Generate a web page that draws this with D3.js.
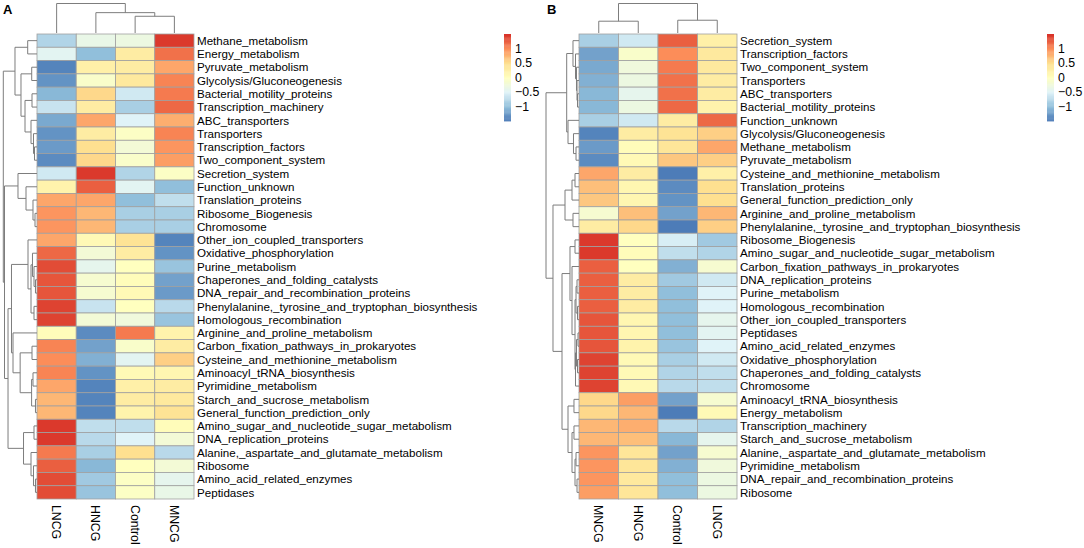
<!DOCTYPE html>
<html>
<head>
<meta charset="utf-8">
<script src="https://cdn.jsdelivr.net/npm/d3@7"></script>
<style>
  body { margin: 0; background: #fff; }
  svg { display: block; font-family: "Liberation Sans", Arial, Helvetica, sans-serif; }
</style>
</head>
<body>
<div id="chart"></div>
<script>
// ---- data: panel A ----
const rowsA = [
  "Methane_metabolism", "Energy_metabolism", "Pyruvate_metabolism", "Glycolysis/Gluconeogenesis",
  "Bacterial_motility_proteins", "Transcription_machinery", "ABC_transporters", "Transporters",
  "Transcription_factors", "Two_component_system", "Secretion_system", "Function_unknown",
  "Translation_proteins", "Ribosome_Biogenesis", "Chromosome", "Other_ion_coupled_transporters",
  "Oxidative_phosphorylation", "Purine_metabolism", "Chaperones_and_folding_catalysts",
  "DNA_repair_and_recombination_proteins", "Phenylalanine,_tyrosine_and_tryptophan_biosynthesis",
  "Homologous_recombination", "Arginine_and_proline_metabolism", "Carbon_fixation_pathways_in_prokaryotes",
  "Cysteine_and_methionine_metabolism", "Aminoacyl_tRNA_biosynthesis", "Pyrimidine_metabolism",
  "Starch_and_sucrose_metabolism", "General_function_prediction_only",
  "Amino_sugar_and_nucleotide_sugar_metabolism", "DNA_replication_proteins",
  "Alanine,_aspartate_and_glutamate_metabolism", "Ribosome", "Amino_acid_related_enzymes", "Peptidases"
];
const colsA = ["LNCG", "HNCG", "Control", "MNCG"];
const valuesA = [
  [-0.8, -0.35, -0.3, 1.45],
  [-0.45, -1.0, 0.3, 1.15],
  [-1.4, 0.25, 0.3, 0.85],
  [-1.3, -0.1, 0.35, 1.05],
  [-1.05, 0.55, -0.6, 1.1],
  [-0.65, 0.3, -0.85, 1.2],
  [-1.15, 0.85, -0.5, 0.8],
  [-1.3, 0.3, -0.05, 1.05],
  [-1.25, 0.5, -0.2, 0.95],
  [-1.35, 0.55, -0.1, 0.9],
  [-0.6, 1.45, -0.8, -0.05],
  [0.2, 1.25, -0.45, -1.0],
  [0.85, 0.85, -1.0, -0.7],
  [0.95, 0.75, -0.85, -0.85],
  [0.95, 0.75, -0.85, -0.85],
  [0.85, 0.1, 0.45, -1.4],
  [1.2, -0.2, 0.3, -1.3],
  [1.35, -0.4, 0.0, -0.95],
  [1.3, -0.15, 0.05, -1.2],
  [1.3, -0.15, 0.1, -1.25],
  [1.4, -0.65, 0.0, -0.75],
  [1.4, -0.2, -0.25, -0.95],
  [0.05, -1.35, 1.1, 0.2],
  [1.05, -1.2, -0.1, 0.3],
  [1.0, -1.1, -0.45, 0.6],
  [1.05, -1.3, 0.1, 0.15],
  [0.85, -1.4, 0.25, 0.3],
  [0.75, -1.4, 0.3, 0.35],
  [0.75, -1.4, 0.2, 0.45],
  [1.45, -0.7, -0.7, 0.05],
  [1.45, -0.75, -0.5, -0.2],
  [1.1, -0.85, 0.5, -0.75],
  [1.25, -1.05, 0.0, -0.2],
  [1.35, -0.9, -0.05, -0.4],
  [1.35, -0.95, -0.05, -0.35]
];
// merge trees: [height, left, right], leaves are row / column indices
const rowTreeA = [10,
  [6.53, [2.76, 0, 1], [4.75, [1.57, 2, 3], [3.56, [1.48, 4, 5], [1.78, 6, [1.04, 7, [0.74, 8, 9]]]]]],
  [9.64,
    [5.64, 10, [3.26, 11, [1.19, 12, [0.59, 13, 14]]]],
    [8.6,
      [7.57,
        [2.67, 15, [1.78, [1.34, 16, [0.89, 17, [0.45, 18, 19]]], [0.89, 20, 21]]],
        [7.12, 22, [5.0, [1.48, 23, 24], [1.6, [1.19, 25, 26], [0.45, 27, 28]]]]],
      [4.0, [0.89, 29, 30], [1.78, 31, [1.04, 32, [0.45, 33, 34]]]]]]];
const colTreeA = [10, 0, [6.9, 1, [5.67, 2, 3]]];

// ---- data: panel B ----
const rowsB = [
  "Secretion_system", "Transcription_factors", "Two_component_system", "Transporters",
  "ABC_transporters", "Bacterial_motility_proteins", "Function_unknown", "Glycolysis/Gluconeogenesis",
  "Methane_metabolism", "Pyruvate_metabolism", "Cysteine_and_methionine_metabolism",
  "Translation_proteins", "General_function_prediction_only", "Arginine_and_proline_metabolism",
  "Phenylalanine,_tyrosine_and_tryptophan_biosynthesis", "Ribosome_Biogenesis",
  "Amino_sugar_and_nucleotide_sugar_metabolism", "Carbon_fixation_pathways_in_prokaryotes",
  "DNA_replication_proteins", "Purine_metabolism", "Homologous_recombination",
  "Other_ion_coupled_transporters", "Peptidases", "Amino_acid_related_enzymes",
  "Oxidative_phosphorylation", "Chaperones_and_folding_catalysts", "Chromosome",
  "Aminoacyl_tRNA_biosynthesis", "Energy_metabolism", "Transcription_machinery",
  "Starch_and_sucrose_metabolism", "Alanine,_aspartate_and_glutamate_metabolism",
  "Pyrimidine_metabolism", "DNA_repair_and_recombination_proteins", "Ribosome"
];
const colsB = ["MNCG", "HNCG", "Control", "LNCG"];
const valuesB = [
  [-0.85, -0.6, 1.25, 0.25],
  [-1.2, -0.1, 1.0, 0.35],
  [-1.15, -0.25, 1.1, 0.35],
  [-1.1, -0.3, 1.15, 0.3],
  [-1.05, -0.4, 1.15, 0.3],
  [-1.05, -0.3, 1.2, 0.2],
  [-0.85, -0.6, 0.3, 1.2],
  [-1.4, 0.3, 0.45, 0.6],
  [-1.25, 0.05, 0.4, 0.85],
  [-1.35, 0.1, 0.65, 0.6],
  [0.85, 0.3, -1.45, 0.25],
  [0.7, 0.15, -1.35, 0.5],
  [0.65, 0.15, -1.3, 0.5],
  [-0.15, 0.7, -1.2, 0.75],
  [0.3, 0.55, -1.45, 0.6],
  [1.45, 0.0, -0.55, -0.9],
  [1.45, 0.05, -0.7, -0.8],
  [1.25, 0.0, -1.1, -0.15],
  [1.25, 0.3, -0.9, -0.6],
  [1.25, 0.3, -1.0, -0.5],
  [1.25, 0.3, -1.0, -0.5],
  [1.3, 0.15, -1.0, -0.4],
  [1.3, 0.15, -1.0, -0.45],
  [1.3, 0.2, -0.95, -0.5],
  [1.4, 0.1, -0.85, -0.6],
  [1.4, 0.1, -0.8, -0.7],
  [1.4, 0.1, -0.75, -0.7],
  [0.55, 0.9, -1.2, -0.15],
  [0.55, 0.75, -1.45, 0.1],
  [0.75, 0.8, -0.75, -0.8],
  [0.75, 0.7, -1.05, -0.4],
  [0.95, 0.4, -1.2, -0.15],
  [0.95, 0.4, -1.1, -0.25],
  [0.95, 0.35, -1.0, -0.3],
  [0.9, 0.4, -1.0, -0.3]
];
const rowTreeB = [10,
  [3.73,
    [1.82, 0, [1.06, 1, [0.76, 2, [0.6, 3, [0.45, 4, 5]]]]],
    [3.33, 6, [1.67, 7, [0.9, 8, 9]]]],
  [7.88,
    [4.24, [2.12, [1.21, 10, 11], 12], [1.82, 13, 14]],
    [5.15,
      [2.73, [1.21, 15, 16],
        [2.12, 17, [1.21, [0.9, [0.6, 18, 19], [0.45, 20, 21]], [1.06, [0.76, [0.3, 22, 23], [0.45, 24, 25]], 26]]]],
      [3.33, [1.52, 27, 28], [2.12, [1.52, 29, 30], [1.21, [0.9, 31, 32], [0.6, 33, 34]]]]]]];
const colTreeB = [10, [4.0, 0, 1], [4.33, 2, 3]];

// ---- colour key ----
const keyDomain = [-1.5, 1.5];
const keyTicks = [1, 0.5, 0, -0.5, -1];
const palette = ["#4575B4", "#91BFDB", "#E0F3F8", "#FFFFBF", "#FEE090", "#FC8D59", "#D73027"];

const width = 1084, height = 548;
const svg = d3.select("#chart").append("svg").attr("width", width).attr("height", height);

const color = d3.scaleLinear()
  .domain(d3.range(palette.length).map(i => keyDomain[0] + i * (keyDomain[1] - keyDomain[0]) / (palette.length - 1)))
  .range(palette)
  .clamp(true);

function drawPanel(p) {
  const g = svg.append("g");
  const x = d3.scaleBand().domain(d3.range(p.cols.length)).range([p.left, p.right]);
  const y = d3.scaleBand().domain(d3.range(p.rows.length)).range([34, 499]);

  // cells
  p.values.forEach((row, i) => {
    g.selectAll(null)
      .data(row)
      .enter()
      .append("rect")
      .attr("x", (d, j) => x(j))
      .attr("y", y(i))
      .attr("width", x.bandwidth())
      .attr("height", y.bandwidth())
      .attr("fill", d => color(d))
      .attr("stroke", "#a0a0a0")
      .attr("stroke-width", 0.8);
  });

  // row labels
  g.selectAll(".rlab")
    .data(p.rows)
    .enter()
    .append("text")
    .attr("x", p.right + 3)
    .attr("y", (d, i) => y(i) + y.bandwidth() / 2)
    .attr("dy", "0.36em")
    .attr("font-size", 11.6)
    .text(d => d);

  // column labels (rotated)
  g.selectAll(".clab")
    .data(p.cols)
    .enter()
    .append("text")
    .attr("transform", (d, j) => `translate(${x(j) + x.bandwidth() / 2},505) rotate(90)`)
    .attr("dy", "0.36em")
    .attr("font-size", 12.3)
    .text(d => d);

  // row dendrogram
  const hx = d3.scaleLinear().domain([0, 10]).range([p.left, p.left - p.treeW]);
  const rowPaths = [];
  function layRow(n) {
    if (typeof n === "number") return { h: 0, pos: y(n) + y.bandwidth() / 2 };
    const l = layRow(n[1]), r = layRow(n[2]);
    rowPaths.push(`M${hx(l.h)},${l.pos}H${hx(n[0])}V${r.pos}H${hx(r.h)}`);
    return { h: n[0], pos: (l.pos + r.pos) / 2 };
  }
  layRow(p.rowTree);

  // column dendrogram
  const hy = d3.scaleLinear().domain([0, 10]).range([33, 3.5]);
  const colPaths = [];
  function layCol(n) {
    if (typeof n === "number") return { h: 0, pos: x(n) + x.bandwidth() / 2 };
    const l = layCol(n[1]), r = layCol(n[2]);
    colPaths.push(`M${l.pos},${hy(l.h)}V${hy(n[0])}H${r.pos}V${hy(r.h)}`);
    return { h: n[0], pos: (l.pos + r.pos) / 2 };
  }
  layCol(p.colTree);

  g.selectAll(".tree")
    .data(rowPaths.concat(colPaths))
    .enter()
    .append("path")
    .attr("d", d => d)
    .attr("fill", "none")
    .attr("stroke", "#7d7d7d")
    .attr("stroke-width", 1);

  // colour key
  const ky = d3.scaleLinear().domain(keyDomain).range([121, 34]);
  const steps = d3.range(keyDomain[0], keyDomain[1], 0.03);
  g.selectAll(".key")
    .data(steps)
    .enter()
    .append("rect")
    .attr("x", p.keyX)
    .attr("y", d => ky(d + 0.03))
    .attr("width", 7)
    .attr("height", d => ky(d) - ky(d + 0.03) + 0.4)
    .attr("fill", d => color(d + 0.015));
  g.selectAll(".ktick")
    .data(keyTicks)
    .enter()
    .append("text")
    .attr("x", p.keyX + 11)
    .attr("y", d => ky(d))
    .attr("dy", "0.36em")
    .attr("font-size", 12.3)
    .text(d => d < 0 ? "\u2212" + Math.abs(d) : d);

  // panel letter
  g.append("text")
    .attr("x", p.letterX)
    .attr("y", 14)
    .attr("font-size", 13)
    .attr("font-weight", "bold")
    .text(p.letter);
}

drawPanel({
  letter: "A", letterX: 3, rows: rowsA, cols: colsA, values: valuesA,
  rowTree: rowTreeA, colTree: colTreeA, left: 37, right: 194, treeW: 33.7, keyX: 504
});
drawPanel({
  letter: "B", letterX: 547, rows: rowsB, cols: colsB, values: valuesB,
  rowTree: rowTreeB, colTree: colTreeB, left: 579, right: 737, treeW: 33, keyX: 1047
});
</script>
</body>
</html>
